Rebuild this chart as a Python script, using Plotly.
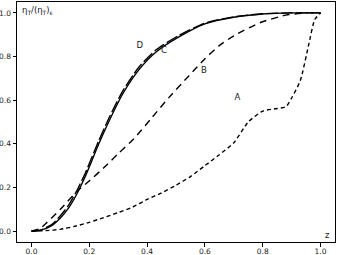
import plotly.graph_objects as go

# Curve A (short dash)
a_z = [0, 0.05, 0.1, 0.15, 0.2, 0.25, 0.3, 0.35, 0.4, 0.45, 0.5, 0.55, 0.6, 0.65, 0.7, 0.75, 0.8, 0.85, 0.88, 0.9, 0.93, 0.96, 0.98, 1.0]
a_y = [0, 0.002, 0.008, 0.022, 0.04, 0.062, 0.085, 0.11, 0.145, 0.175, 0.21, 0.25, 0.30, 0.35, 0.405, 0.50, 0.55, 0.562, 0.57, 0.61, 0.69, 0.86, 0.97, 1.0]

# Curve B (dashed)
b_z = [0, 0.03, 0.05, 0.1, 0.156, 0.2, 0.25, 0.3, 0.354, 0.418, 0.476, 0.545, 0.6, 0.65, 0.7, 0.79, 0.88, 0.95, 1.0]
b_y = [0, 0.012, 0.035, 0.10, 0.18, 0.23, 0.29, 0.355, 0.423, 0.522, 0.613, 0.712, 0.79, 0.85, 0.895, 0.955, 0.99, 1.0, 1.0]

# Curve C (solid)
c_z = [0, 0.03, 0.07, 0.1, 0.128, 0.157, 0.186, 0.233, 0.267, 0.314, 0.372, 0.43, 0.51, 0.6, 0.7, 0.8, 0.9, 1.0]
c_y = [0, 0.003, 0.025, 0.06, 0.105, 0.17, 0.25, 0.40, 0.50, 0.625, 0.74, 0.82, 0.89, 0.95, 0.98, 0.995, 1.0, 1.0]

# Curve D (long dash)
d_z = [0, 0.03, 0.07, 0.1, 0.128, 0.157, 0.186, 0.233, 0.267, 0.314, 0.372, 0.43, 0.51, 0.6, 0.7, 0.8, 0.9, 1.0]
d_y = [0, 0.004, 0.03, 0.07, 0.118, 0.185, 0.265, 0.415, 0.515, 0.638, 0.752, 0.83, 0.897, 0.953, 0.982, 0.996, 1.0, 1.0]

labels = ["A", "B", "C", "D"]
label_z = [0.712, 0.597, 0.458, 0.375]
label_y = [0.61, 0.735, 0.826, 0.85]

tick_vals = [0.0, 0.2, 0.4, 0.6, 0.8, 1.0]
tick_text = ["0.0", "0.2", "0.4", "0.6", "0.8", "1.0"]

fig = go.Figure()
style = dict(color="black", width=1.4)
fig.add_trace(go.Scatter(x=a_z, y=a_y, mode="lines", line=dict(**style, dash="4px,3px", shape="spline", smoothing=0.6)))
fig.add_trace(go.Scatter(x=b_z, y=b_y, mode="lines", line=dict(**style, dash="7px,5px", shape="spline", smoothing=0.6)))
fig.add_trace(go.Scatter(x=c_z, y=c_y, mode="lines", line=dict(**style, shape="spline", smoothing=0.6)))
fig.add_trace(go.Scatter(x=d_z, y=d_y, mode="lines", line=dict(**style, dash="12px,3px", shape="spline", smoothing=0.6)))
fig.add_trace(go.Scatter(x=label_z, y=label_y, mode="text", text=labels,
                         textfont=dict(family="DejaVu Sans", size=8.5, color="#222")))

axis_common = dict(
    showgrid=False, zeroline=False, showline=True, linecolor="black", linewidth=1,
    mirror=True, ticks="outside", ticklen=3.5, tickwidth=1, tickcolor="black",
    tickfont=dict(family="DejaVu Sans", size=7.5, color="#222"),
    tickvals=tick_vals, ticktext=tick_text, automargin=False,
)
fig.update_xaxes(range=[-0.05, 1.05], ticklabelstandoff=-2, **axis_common)
fig.update_yaxes(range=[-0.05, 1.05], **axis_common)

fig.add_annotation(x=0.01, y=0.995, xref="paper", yref="paper", xanchor="left", yanchor="top",
                   text="η<sub>T</sub>/(η<sub>T</sub>)<sub>ε</sub>", showarrow=False,
                   font=dict(family="DejaVu Sans", size=8.5, color="#222"))
fig.add_annotation(x=0.99, y=0.0, xref="paper", yref="paper", xanchor="right", yanchor="bottom",
                   text="z", showarrow=False,
                   font=dict(family="DejaVu Sans", size=8.5, color="#222"))

fig.update_layout(
    width=339, height=255, showlegend=False,
    margin=dict(l=17, r=4, t=2, b=13),
    paper_bgcolor="white", plot_bgcolor="white",
)
fig.write_html("out.html", config={"displayModeBar": False},
               post_script="document.body.style.margin='0px';document.body.style.overflow='hidden';")
